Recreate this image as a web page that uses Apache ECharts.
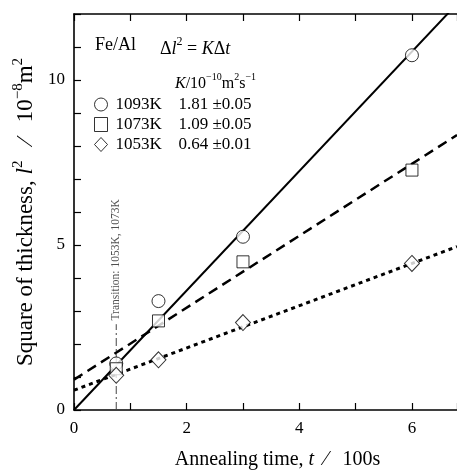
<!DOCTYPE html>
<html><head><meta charset="utf-8">
<script src="https://cdn.jsdelivr.net/npm/echarts@6/dist/echarts.min.js"></script>
<style>html,body{margin:0;padding:0;background:#fff}#c{width:457px;height:470px}</style>
</head><body><div id="c"></div>
<script>
// ---- data ----
const times = [0.75, 1.5, 3, 6];
const sq1093 = [1.41, 3.3, 5.25, 10.75];
const sq1073 = [1.25, 2.7, 4.49, 7.27];
const sq1053 = [1.05, 1.52, 2.65, 4.44];
const seriesNames = ['1093K', '1073K', '1053K'];
const kValues = ['1.81 ±0.05', '1.09 ±0.05', '0.64 ±0.01'];
const fitSlopes = [1.81, 1.09, 0.64];
const fitIntercepts = [0, 0.92, 0.6];
const transitionTime = 0.75;
const transitionLineTop = 2.6;
const transitionLabelY = 4.55;
const xTickLabels = [0, 2, 4, 6];
const yTickLabels = [0, 5, 10];
const xMin = 0, xMax = 6.8, yMin = 0, yMax = 12;

const FONT = '"Liberation Serif","Times New Roman",serif';
const chart = echarts.init(document.getElementById('c'));
const pts = arr => times.map((t, i) => [t, arr[i]]);
const fitLine = i => [[xMin, fitIntercepts[i]], [xMax, fitIntercepts[i] + fitSlopes[i] * xMax]];
const symbols = ['circle', 'rect', 'diamond'];
const symSizes = [13, 12, [15, 16]];
const lineTypes = ['solid', [10, 6], [4, 4]];
const lineWidths = [2, 2.5, 3];
const dataSets = [sq1093, sq1073, sq1053];

const series = [];
for (let i = 0; i < 3; i++) {
  series.push({
    type: 'line', data: fitLine(i), symbol: 'none', silent: true, z: 2,
    lineStyle: { color: '#000', width: lineWidths[i], type: lineTypes[i], cap: 'butt' }
  });
}
series.push({
  type: 'line', data: [[transitionTime, 0], [transitionTime, transitionLineTop]], symbol: 'none', z: 1,
  lineStyle: { color: '#444', width: 1, type: [8, 3, 2, 3] }
});
series.push({
  type: 'scatter', data: [[transitionTime, transitionLabelY]], symbolSize: 0, z: 1,
  label: { show: true, position: 'inside', rotate: 90, formatter: 'Transition: 1053K, 1073K',
    fontFamily: FONT, fontSize: 11.5, color: '#222' }
});
for (let i = 0; i < 3; i++) {
  series.push({
    type: 'scatter', name: seriesNames[i], data: pts(dataSets[i]), symbol: symbols[i], symbolSize: symSizes[i], z: 5,
    itemStyle: { color: '#fff', borderColor: '#000', borderWidth: 1 }
  });
}

const axisCommon = {
  axisLine: { show: true, lineStyle: { color: '#000', width: 1.6 } },
  axisTick: { show: true, inside: true, length: 7, lineStyle: { color: '#000', width: 1.2 } },
  splitLine: { show: false }
};
const supRich = (size) => ({
  n: { fontFamily: FONT, fontSize: size, color: '#000', fill: '#000', lineHeight: size + 4, verticalAlign: 'bottom' },
  i: { fontFamily: FONT, fontSize: size, fontStyle: 'italic', color: '#000', fill: '#000', lineHeight: size + 4, verticalAlign: 'bottom' },
  s: { fontFamily: FONT, fontSize: Math.round(size * 0.65), color: '#000', fill: '#000', lineHeight: size + 4, verticalAlign: 'top' }
});

chart.setOption({
  animation: false,
  backgroundColor: '#fff',
  grid: { left: 74, right: 0, top: 14, bottom: 60, containLabel: false, outerBoundsMode: 'none' },
  xAxis: [
    Object.assign({}, axisCommon, {
      type: 'value', min: xMin, max: xMax, interval: 1, position: 'bottom',
      name: '{n|Annealing time, }{i|t}{n|  ⁄   100s}', nameLocation: 'middle', nameGap: 36,
      nameTextStyle: { fontFamily: FONT, fontSize: 20, color: '#000', padding: [0, 0, 0, 24], rich: supRich(20) },
      axisLabel: { fontFamily: FONT, fontSize: 17, color: '#000', margin: 10,
        formatter: v => xTickLabels.includes(v) ? String(v) : '' }
    }),
    Object.assign({}, axisCommon, {
      type: 'value', min: xMin, max: xMax, interval: 1, position: 'top',
      axisLabel: { show: false }
    })
  ],
  yAxis: [
    Object.assign({}, axisCommon, {
      type: 'value', min: yMin, max: yMax, interval: 1,
      name: '{n|Square of thickness, }{i|l}{s|2}{n|   ⁄   10}{s|−8}{n|m}{s|2}', nameLocation: 'middle', nameGap: 32, nameRotate: 90,
      nameTextStyle: { fontFamily: FONT, fontSize: 23, color: '#000', rich: supRich(23) },
      axisLabel: { fontFamily: FONT, fontSize: 17, color: '#000', margin: 9,
        formatter: v => yTickLabels.includes(v) ? String(v) : '' }
    })
  ],
  legend: {
    orient: 'vertical', left: 89, top: 91, itemWidth: 13, itemHeight: 14, itemGap: 3,
    data: seriesNames.map((n, i) => ({ name: n, icon: symbols[i] })),
    itemStyle: { color: '#fff', borderColor: '#000', borderWidth: 1 },
    formatter: n => `{a|${n}}{b|${kValues[seriesNames.indexOf(n)]}}`,
    textStyle: { fontFamily: FONT, fontSize: 17, color: '#000', lineHeight: 14,
      rich: { a: { fontFamily: FONT, fontSize: 17, lineHeight: 14, width: 63, padding: [0, 0, 0, 3] },
              b: { fontFamily: FONT, fontSize: 17, lineHeight: 14 } } }
  },
  graphic: [
    { type: 'text', left: 95, top: 36, style: { rich: supRich(18), text: '{n|Fe/Al}' } },
    { type: 'text', left: 160, top: 36, style: { rich: supRich(18), text: '{n|Δ}{i|l}{s|2}{n| = }{i|K}{n|Δ}{i|t}' } },
    { type: 'text', left: 175, top: 72, style: { rich: supRich(16), text: '{i|K}{n|/10}{s|−10}{n|m}{s|2}{n|s}{s|−1}' } }
  ],
  series: series
});
</script></body></html>
